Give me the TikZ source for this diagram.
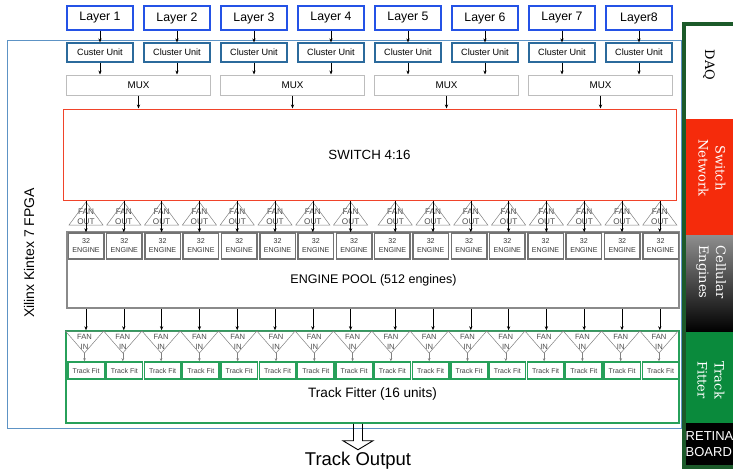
\documentclass[tikz,border=0pt]{standalone}
\usepackage{fontspec}
\setmainfont{Liberation Sans}
\newfontfamily\sideserif{DejaVu Serif}
\usetikzlibrary{arrows.meta}
\definecolor{layerblue}{HTML}{2452E6}
\definecolor{clusterblue}{HTML}{2B6A9C}
\definecolor{fpgablue}{HTML}{5D93C5}
\definecolor{muxgray}{HTML}{BDBDBD}
\definecolor{switchred}{HTML}{F0432A}
\definecolor{enginegray}{HTML}{737373}
\definecolor{poolgray}{HTML}{8A8A8A}
\definecolor{fitgreen}{HTML}{27A05A}
\definecolor{barred}{HTML}{F52B0B}
\definecolor{bargreen}{HTML}{0A8A3C}
\definecolor{barframe}{HTML}{1C5A2A}
\definecolor{barsilver}{HTML}{8E8E8E}
\newcommand{\fsz}[2]{\fontsize{#1}{#2}\selectfont}

\begin{document}
\begin{tikzpicture}[x=1pt, y=-1pt, font=\fsz{9}{11},
    arr/.style={-{Stealth[length=4pt, width=3.2pt]}, line width=0.6pt},
    garr/.style={-{Stealth[length=3pt, width=2.6pt]}, line width=0.5pt, gray},
    layer/.style={draw=layerblue, line width=1.4pt, minimum width=66pt, minimum height=24pt, inner sep=0pt, font=\fsz{12.3}{14}},
    cluster/.style={draw=clusterblue, line width=1.2pt, minimum width=66pt, minimum height=19pt, inner sep=0pt, font=\fsz{9.1}{11}},
    mux/.style={draw=muxgray, line width=1pt, minimum width=144pt, minimum height=20pt, inner sep=0pt, font=\fsz{9.8}{11}},
    engine/.style={draw=enginegray, fill=white, line width=1.5pt, minimum width=35.5pt, minimum height=26pt, inner sep=0pt, align=center, text=black!80, font=\fsz{7.1}{9}},
    fantext/.style={inner sep=0pt, align=center, text=black!70, font=\fsz{8.2}{10}},
    fantri/.style={draw=gray, line width=0.5pt},
    trackfit/.style={draw=fitgreen, line width=1.5pt, minimum width=36.5pt, minimum height=17pt, inner sep=0pt, text=black!75, font=\fsz{7}{9}},
    sidetxt/.style={rotate=-90, align=center, font=\sideserif\fsz{13}{17}}]
    \useasboundingbox (0,0) rectangle (733,469);

    \node[draw=fpgablue, line width=0.8pt, minimum width=674pt, minimum height=388pt] (fpga) at (344,234) {};
    \node[rotate=90, font=\fsz{14}{16}] (xilinx) at (29,253) {Xilinx Kintex 7 FPGA};

    \node[draw=switchred, line width=1pt, minimum width=613pt, minimum height=91pt, font=\fsz{13.3}{15}] (sw) at (369.5,154.5) {SWITCH 4:16};

    \foreach \j in {1,...,4}{
        \pgfmathsetmacro\xm{138.5+154*(\j-1)}
        \node[mux] (M\j) at (\xm,85) {MUX};
        \draw[arr] (M\j) -- (M\j |- sw.north);
    }

    \foreach \i/\t/\c in {1/Layer 1/Custer Unit, 2/Layer 2/Cluster Unit, 3/Layer 3/Cluster Unit, 4/Layer 4/Cluster Unit,
                          5/Layer 5/Cluster Unit, 6/Layer 6/Cluster Unit, 7/Layer 7/Cluster Unit, 8/Layer8/Cluster Unit}{
        \pgfmathsetmacro\xl{100+77*(\i-1)}
        \pgfmathtruncatemacro\m{(\i+1)/2}
        \node[layer] (L\i) at (\xl,18) {\t};
        \node[cluster] (C\i) at (\xl,52.5) {\c};
        \draw[arr] (L\i) -- (C\i);
        \draw[arr] (C\i) -- (C\i |- M\m.north);
    }

    \node[draw=poolgray, line width=1.5pt, minimum width=612pt, minimum height=76pt] (pool) at (373,270) {};
    \node[font=\fsz{12.5}{14}] (pooltext) at (373.5,280) {ENGINE POOL (512 engines)};
    \node[draw=fitgreen, line width=1.5pt, minimum width=613pt, minimum height=92pt] (fitter) at (372.5,377) {};
    \node[font=\fsz{13.6}{15}] (fittertext) at (372.5,394) {Track Fitter (16 units)};

    \foreach \k in {1,...,16}{
        \pgfmathsetmacro\xf{86+37.8*(\k-1)+6.8*(\k>8)}
        \pgfmathsetmacro\xe{86+38.3*(\k-1)}
        \node[fantext] (FO\k) at (\xf,217) {FAN\\OUT};
        \draw[fantri] (FO\k.center) ++(0,-15) -- ++(-17,23) -- ++(34,0) -- cycle;
        \node[engine] (E\k) at (\xe,246) {32\\ENGINE};
        \node[fantext, font=\fsz{7.6}{9.5}] (FI\k) at (\xe-1.5,342) {FAN\\IN};
        \draw[fantri] (FI\k.center) ++(-19.15,-11) -- ++(38.3,0) -- ++(-19.15,22) -- cycle;
        \coordinate (ap\k) at ([yshift=-11pt]FI\k.center);
        \node[trackfit] (T\k) at (\xe,370.5) {Track Fit};
        \draw[arr] (FO\k.center |- sw.south) -- (FO\k.center |- E\k.north);
        \draw[arr] (FO\k.center |- pool.south) -- (FO\k.center |- fitter.north);
        \draw[garr] (ap\k) -- (ap\k |- T\k.north);
    }

    \node[font=\fsz{18.5}{20}, anchor=base] (out) at (358,465) {Track Output};
    \draw[line width=0.9pt] (fitter.south -| out) ++(-4.5,0) -- ++(0,17) -- ++(-10.5,0) -- ++(15,9) -- ++(15,-9) -- ++(-10.5,0) -- ++(0,-17);

    \fill[white] (686,26) rectangle (733,119);
    \fill[barred] (686,119) rectangle (733,235);
    \shade[top color=barsilver, bottom color=black] (686,235) rectangle (733,332);
    \fill[bargreen] (686,332) rectangle (733,423);
    \fill[black] (686,423) rectangle (733,466);
    \draw[barframe, line width=4pt] (733,24) -- (684,24) -- (684,467) -- (733,467);

    \node[sidetxt] (daq) at (709,65) {DAQ};
    \node[sidetxt, text=white] (swnet) at (712,168) {Switch\\Network};
    \node[sidetxt, text=white] (cellular) at (711,272) {Cellular\\Engines};
    \node[sidetxt, text=white] (trackfitter) at (711,380) {Track\\Fitter};
    \node[anchor=west, inner sep=0pt, align=left, text=white, font=\fsz{13}{16.5}] (retina) at (685.5,444) {RETINA\\BOARD};
\end{tikzpicture}
\end{document}
